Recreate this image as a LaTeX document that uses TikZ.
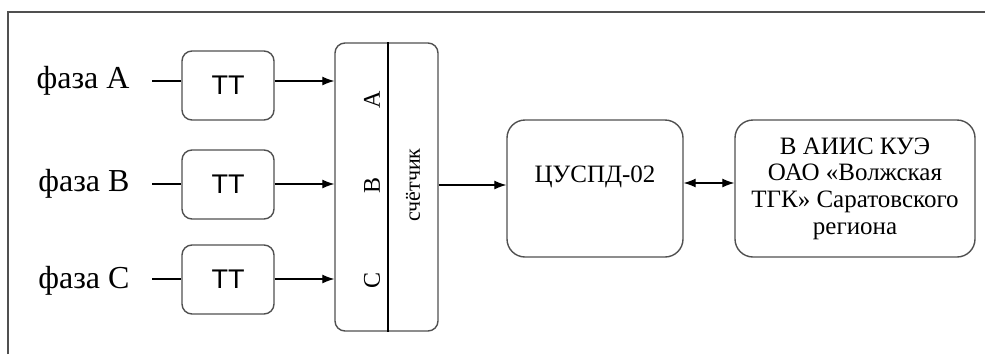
\documentclass[tikz,border=0pt]{standalone}
\usepackage{fontspec}
\setmainfont{Liberation Serif}
\newfontfamily\ttsans{Liberation Sans}
\usetikzlibrary{arrows.meta}
\definecolor{boxgray}{HTML}{505050}
\tikzset{
  box/.style={draw=boxgray, line width=1.4pt, rectangle, inner sep=0pt},
  ttbox/.style={box, rounded corners=10pt, minimum width=92pt, minimum height=69pt,
                font=\ttsans\fontsize{27}{30}\selectfont},
  bigbox/.style={box, rounded corners=18pt, minimum width=#1, minimum height=137pt},
  phase/.style={font=\fontsize{32}{36}\selectfont, anchor=base east},
  wire/.style={draw=black, line width=1.1pt},
  tip/.tip={Latex[length=12pt,width=9pt]},
  arr/.style={wire, -tip},
  darr/.style={wire, tip-tip},
  rot/.style={rotate=90, font=\fontsize{24}{26}\selectfont}
}
\begin{document}
\begin{tikzpicture}[x=1pt, y=-1pt]
  \useasboundingbox (0,0) rectangle (985,354);
  % outer frame (only its top and left edges are visible)
  \draw[boxgray, line width=1.5pt] (8,354) -- (8,12) -- (985,12);

  % phase labels
  \node[phase] (phA) at (133,88) {фаза A};
  \node[phase] (phB) at (133,191) {фаза B};
  \node[phase] (phC) at (133,288) {фаза C};
  \coordinate (inA) at (152,81);
  \coordinate (inB) at (152,184);
  \coordinate (inC) at (152,279);

  % current transformers
  \node[ttbox] (ttA) at (228,85.5) {ТТ};
  \node[ttbox] (ttB) at (228,184.5) {ТТ};
  \node[ttbox] (ttC) at (228,279.5) {ТТ};

  % meter
  \node[box, rounded corners=10pt, minimum width=103pt, minimum height=288pt] (cnt) at (386.5,187) {};
  \draw[wire] ([xshift=1.5pt]cnt.north) -- ([xshift=1.5pt]cnt.south);
  \node[rot] (lA) at (372,100) {A};
  \node[rot] (lB) at (372,185) {B};
  \node[rot] (lC) at (372,280) {C};
  \node[rot, font=\fontsize{22}{24}\selectfont] (lcnt) at (413,185) {счётчик};

  % data concentrator and upper level
  \node[bigbox=176pt, label={[yshift=11.5pt, font=\fontsize{25}{27}\selectfont]center:ЦУСПД-02}] (cusp) at (595,188.5) {};
  \node[bigbox=240pt, align=center, font=\fontsize{25}{26.7}\selectfont] (aiis) at (855,188.5)
    {В АИИС КУЭ\\ОАО «Волжская\\ТГК» Саратовского\\региона};

  % connections
  \draw[wire] (inA) -- (inA -| ttA.west);
  \draw[wire] (inB) -- (inB -| ttB.west);
  \draw[wire] (inC) -- (inC -| ttC.west);
  \draw[arr] (inA -| ttA.east) -- (inA -| cnt.west);
  \draw[arr] (inB -| ttB.east) -- (inB -| cnt.west);
  \draw[arr] (inC -| ttC.east) -- (inC -| cnt.west);
  \draw[arr] ([yshift=2pt]cnt.east) -- ([yshift=2pt]cnt.east -| cusp.west);
  \draw[darr] ([yshift=5.5pt]cusp.east) -- ([yshift=5.5pt]aiis.west);
\end{tikzpicture}
\end{document}
